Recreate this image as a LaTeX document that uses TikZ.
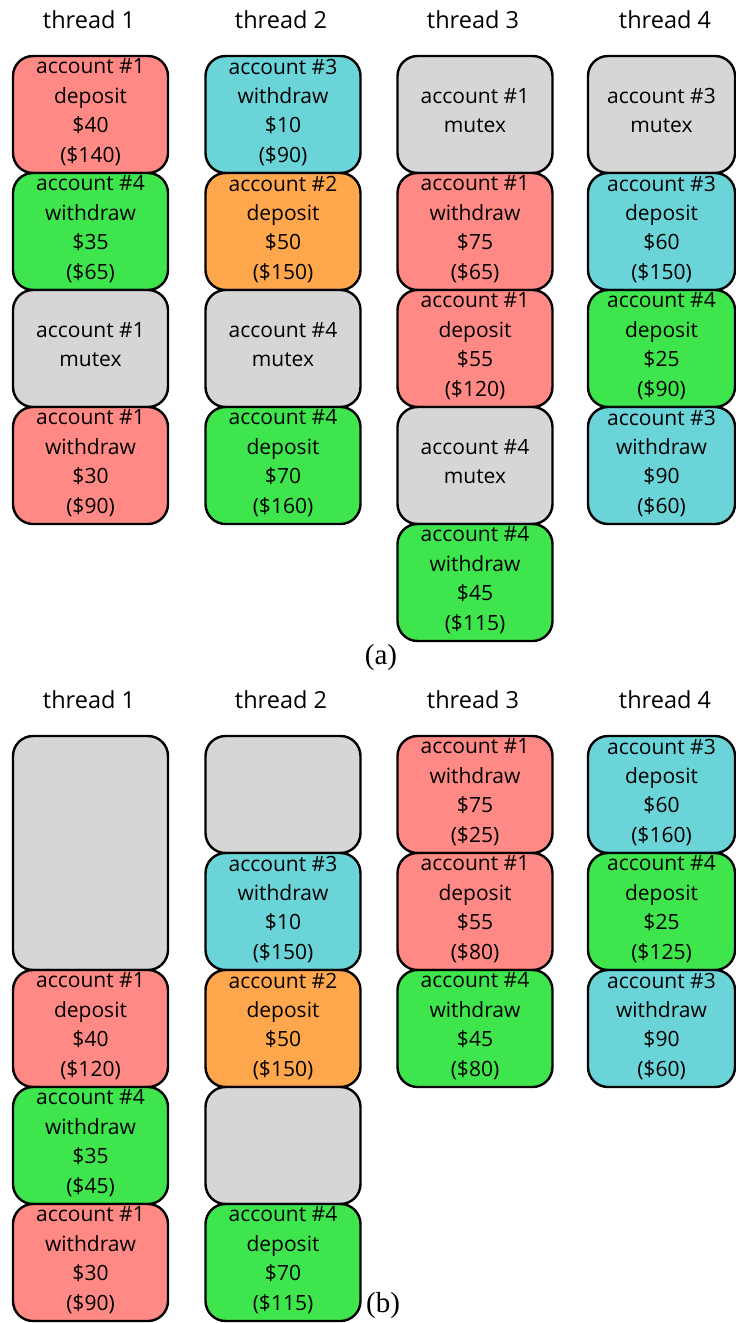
\documentclass[tikz,border=0pt]{standalone}
\usepackage{fontspec}
\setsansfont{Open Sans}
\newfontfamily\captionserif{Liberation Serif}
\definecolor{acctred}{RGB}{255,137,132}
\definecolor{acctgreen}{RGB}{62,229,76}
\definecolor{acctcyan}{RGB}{106,212,216}
\definecolor{acctorange}{RGB}{255,167,77}
\definecolor{mutexgray}{RGB}{214,214,214}
\tikzset{
  opbox/.style={draw=black, line width=2.4pt, rounded corners=20pt,
    minimum width=155pt, minimum height=117pt, inner sep=0pt,
    text depth=8pt,
    align=center, font=\sffamily\fontsize{21}{29.4}\selectfont},
  narrowbox/.style={opbox, minimum width=147pt},
  tallbox/.style={opbox, minimum height=234pt},
  threadlabel/.style={font=\sffamily\fontsize{23.5}{26}\selectfont, inner sep=0pt},
  caption/.style={font=\captionserif\fontsize{29}{32}\selectfont, inner sep=0pt},
}
% \opcell{name}{style}{x}{y}{fill}{text}
\newcommand\opcell[6]{\node[#2, fill=#5] (#1) at (#3,#4) {#6};}
\begin{document}
\begin{tikzpicture}[x=1pt,y=-1pt]
\useasboundingbox (0,0) rectangle (736,1323);
% ---------- part (a) ----------
\node[threadlabel] (la1) at (89,20) {thread 1};
\node[threadlabel] (la2) at (281,20) {thread 2};
\node[threadlabel] (la3) at (473,20) {thread 3};
\node[threadlabel] (la4) at (665,20) {thread 4};
% thread 1
\opcell{a11}{opbox}{90.5}{114.5}{acctred}{account \#1\\deposit\\\$40\\(\$140)}
\opcell{a12}{opbox}{90.5}{231.5}{acctgreen}{account \#4\\withdraw\\\$35\\(\$65)}
\opcell{a13}{opbox}{90.5}{348.5}{mutexgray}{account \#1\\mutex}
\opcell{a14}{opbox}{90.5}{465.5}{acctred}{account \#1\\withdraw\\\$30\\(\$90)}
% thread 2
\opcell{a21}{opbox}{283}{114.5}{acctcyan}{account \#3\\withdraw\\\$10\\(\$90)}
\opcell{a22}{opbox}{283}{231.5}{acctorange}{account \#2\\deposit\\\$50\\(\$150)}
\opcell{a23}{opbox}{283}{348.5}{mutexgray}{account \#4\\mutex}
\opcell{a24}{opbox}{283}{465.5}{acctgreen}{account \#4\\deposit\\\$70\\(\$160)}
% thread 3
\opcell{a31}{opbox}{475}{114.5}{mutexgray}{account \#1\\mutex}
\opcell{a32}{opbox}{475}{231.5}{acctred}{account \#1\\withdraw\\\$75\\(\$65)}
\opcell{a33}{opbox}{475}{348.5}{acctred}{account \#1\\deposit\\\$55\\(\$120)}
\opcell{a34}{opbox}{475}{465.5}{mutexgray}{account \#4\\mutex}
\opcell{a35}{opbox}{475}{582.5}{acctgreen}{account \#4\\withdraw\\\$45\\(\$115)}
% thread 4
\opcell{a41}{narrowbox}{661.5}{114.5}{mutexgray}{account \#3\\mutex}
\opcell{a42}{narrowbox}{661.5}{231.5}{acctcyan}{account \#3\\deposit\\\$60\\(\$150)}
\opcell{a43}{narrowbox}{661.5}{348.5}{acctgreen}{account \#4\\deposit\\\$25\\(\$90)}
\opcell{a44}{narrowbox}{661.5}{465.5}{acctcyan}{account \#3\\withdraw\\\$90\\(\$60)}
\node[caption] (capa) at (381,658) {(a)};
% ---------- part (b) ----------
\node[threadlabel] (lb1) at (89,700) {thread 1};
\node[threadlabel] (lb2) at (281,700) {thread 2};
\node[threadlabel] (lb3) at (473,700) {thread 3};
\node[threadlabel] (lb4) at (665,700) {thread 4};
% thread 1
\opcell{b11}{tallbox}{90.5}{853}{mutexgray}{}
\opcell{b12}{opbox}{90.5}{1028.5}{acctred}{account \#1\\deposit\\\$40\\(\$120)}
\opcell{b13}{opbox}{90.5}{1145.5}{acctgreen}{account \#4\\withdraw\\\$35\\(\$45)}
\opcell{b14}{opbox}{90.5}{1262.5}{acctred}{account \#1\\withdraw\\\$30\\(\$90)}
% thread 2
\opcell{b21}{opbox}{283}{794.5}{mutexgray}{}
\opcell{b22}{opbox}{283}{911.5}{acctcyan}{account \#3\\withdraw\\\$10\\(\$150)}
\opcell{b23}{opbox}{283}{1028.5}{acctorange}{account \#2\\deposit\\\$50\\(\$150)}
\opcell{b24}{opbox}{283}{1145.5}{mutexgray}{}
\opcell{b25}{opbox}{283}{1262.5}{acctgreen}{account \#4\\deposit\\\$70\\(\$115)}
% thread 3
\opcell{b31}{opbox}{475}{794.5}{acctred}{account \#1\\withdraw\\\$75\\(\$25)}
\opcell{b32}{opbox}{475}{911.5}{acctred}{account \#1\\deposit\\\$55\\(\$80)}
\opcell{b33}{opbox}{475}{1028.5}{acctgreen}{account \#4\\withdraw\\\$45\\(\$80)}
% thread 4
\opcell{b41}{narrowbox}{661.5}{794.5}{acctcyan}{account \#3\\deposit\\\$60\\(\$160)}
\opcell{b42}{narrowbox}{661.5}{911.5}{acctgreen}{account \#4\\deposit\\\$25\\(\$125)}
\opcell{b43}{narrowbox}{661.5}{1028.5}{acctcyan}{account \#3\\withdraw\\\$90\\(\$60)}
\node[caption] (capb) at (383,1306) {(b)};
\end{tikzpicture}
\end{document}
